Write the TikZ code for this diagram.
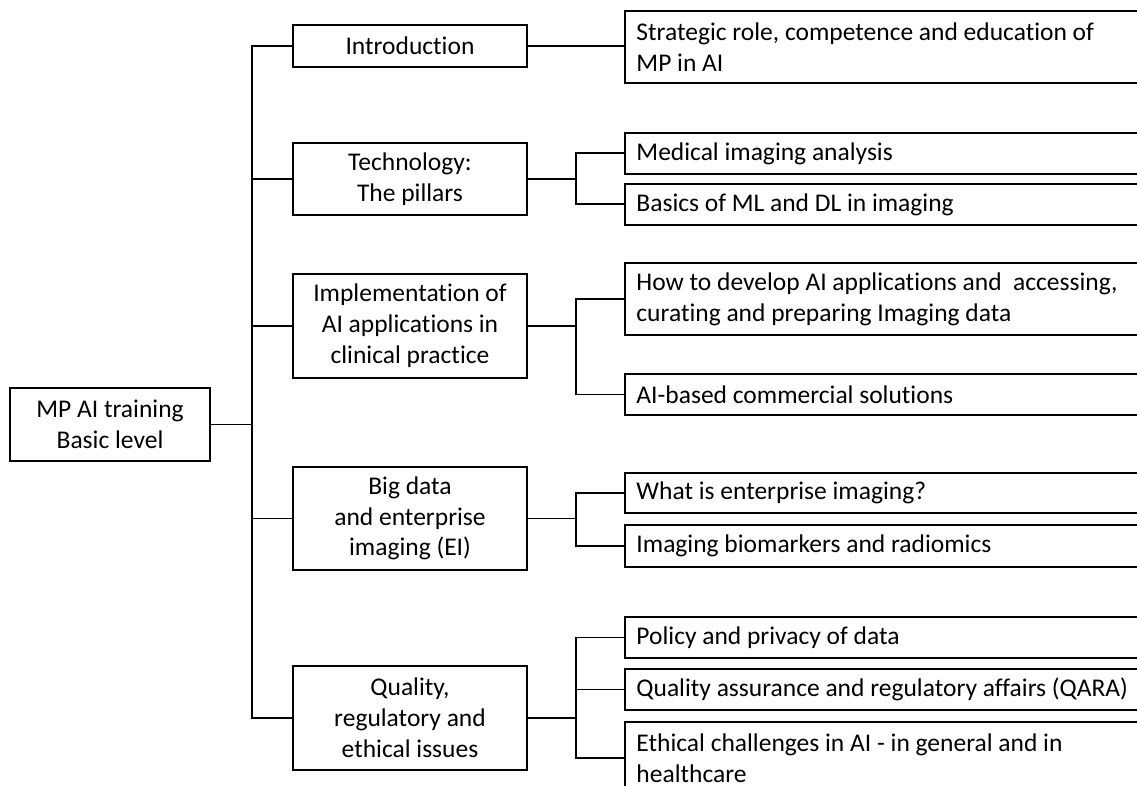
\documentclass[tikz,border=0pt]{standalone}
\usepackage{fontspec}
\setmainfont{Carlito}[Ligatures=NoCommon]
\begin{document}
\begin{tikzpicture}[x=1pt,y=-1pt,
  box/.style={draw=black, line width=1.9pt, inner sep=0pt, align=flush center,
    font=\fontsize{25.5}{30.8}\selectfont},
  midbox/.style={box, minimum width=234pt},
  leafbox/.style={draw=black, line width=1.9pt, anchor=north west, inner ysep=0pt,
    inner xsep=11.5pt, text width=498pt, align=flush left,
    font=\fontsize{25.5}{30.8}\selectfont},
  conn/.style={line width=1.9pt, line cap=rect}]
\path[use as bounding box] (0,0) rectangle (1137,786);
\clip (0,0) rectangle (1137,786);
\fill[white] (0,0) rectangle (1137,786);
% root
\node[box, minimum width=200pt, minimum height=73pt] (root) at (110,424.5) {MP AI training\\Basic level};
% middle level
\node[midbox, minimum height=42pt] (intro) at (410,46) {Introduction};
\node[midbox, minimum height=72pt] (tech) at (410,179) {Technology:\\The pillars};
\node[midbox, minimum height=104pt] (impl) at (410,326) {Implementation of\\AI applications in\\clinical practice};
\node[midbox, minimum height=103pt] (big) at (410,518.5) {Big data\\and enterprise\\imaging (EI)};
\node[midbox, minimum height=104pt] (qual) at (410,718) {Quality,\\regulatory and\\ethical issues};
% leaves
\node[leafbox, minimum height=72pt] (strat) at (624,10) {Strategic role, competence and education of\\MP in AI};
\node[leafbox, minimum height=41pt] (med) at (624,132) {Medical imaging analysis};
\node[leafbox, minimum height=41pt] (basics) at (624,183) {Basics of ML and DL in imaging};
\node[leafbox, minimum height=72pt] (how) at (624,262) {How to develop AI applications and\ \ accessing,\\curating and preparing Imaging data};
\node[leafbox, minimum height=41pt] (aib) at (624,373) {AI-based commercial solutions};
\node[leafbox, minimum height=40pt] (what) at (624,472) {What is enterprise imaging?};
\node[leafbox, minimum height=42pt] (imgbio) at (624,524) {Imaging biomarkers and radiomics};
\node[leafbox, minimum height=41pt] (policy) at (624,616) {Policy and privacy of data};
\node[leafbox, minimum height=41pt] (qara) at (624,668) {Quality assurance and regulatory affairs (QARA)};
\node[leafbox, minimum height=72pt] (eth) at (624,721) {Ethical challenges in AI - in general and in\\healthcare};
% trunk
\coordinate (t) at (252,0);
\coordinate (b) at (576,0);
\draw[conn] (root.east) -- (root.east -| t);
\draw[conn] (intro.west -| t) -- (qual.west -| t);
\foreach \n in {intro,tech,impl,big,qual}
  \draw[conn] (\n.west -| t) -- (\n.west);
% intro
\draw[conn] (intro.east) -- (intro.east -| strat.west);
% tech
\draw[conn] (tech.east) -- (tech.east -| b);
\draw[conn] (med.west -| b) -- (basics.west -| b);
\foreach \n in {med,basics} \draw[conn] (\n.west -| b) -- (\n.west);
% impl
\draw[conn] (impl.east) -- (impl.east -| b);
\draw[conn] (how.west -| b) -- (aib.west -| b);
\foreach \n in {how,aib} \draw[conn] (\n.west -| b) -- (\n.west);
% big
\draw[conn] (big.east) -- (big.east -| b);
\draw[conn] (what.west -| b) -- (imgbio.west -| b);
\foreach \n in {what,imgbio} \draw[conn] (\n.west -| b) -- (\n.west);
% qual
\draw[conn] (qual.east) -- (qual.east -| b);
\draw[conn] (policy.west -| b) -- (eth.west -| b);
\foreach \n in {policy,qara,eth} \draw[conn] (\n.west -| b) -- (\n.west);
\end{tikzpicture}
\end{document}
